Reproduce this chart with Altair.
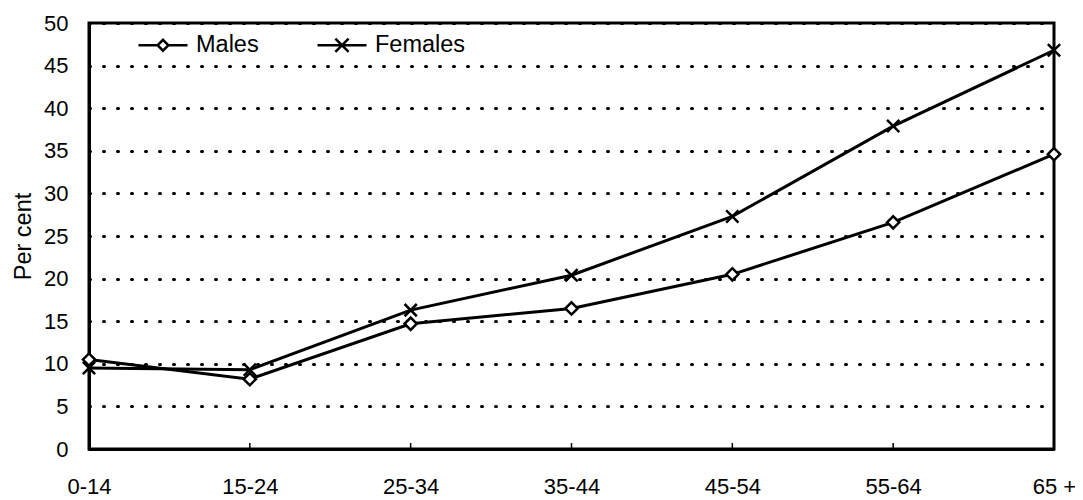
import altair as alt
import pandas as pd

ages = ["0-14", "15-24", "25-34", "35-44", "45-54", "55-64", "65 +"]
males = [10.5, 8.2, 14.7, 16.5, 20.5, 26.6, 34.6]
females = [9.5, 9.3, 16.3, 20.4, 27.3, 37.9, 46.8]
sexes = ["Males", "Females"]
y_ticks = [0, 5, 10, 15, 20, 25, 30, 35, 40, 45, 50]

rows = []
for a, m, f in zip(ages, males, females):
    rows.append({"age": a, "sex": "Males", "value": m})
    rows.append({"age": a, "sex": "Females", "value": f})
df = pd.DataFrame(rows)

FONT = "Liberation Sans"
TICK_FS = 22
TITLE_FS = 23.5

x_enc = alt.X("age:N", sort=ages,
              scale=alt.Scale(type="point", domain=ages, padding=0),
              axis=alt.Axis(title=None, labelAngle=0, labelFontSize=TICK_FS, labelFont=FONT,
                            labelColor="black", labelPadding=27, tickSize=0,
                            domain=True, domainColor="black", domainWidth=3,
                            grid=False))
y_enc = alt.Y("value:Q", scale=alt.Scale(domain=[0, 50], nice=False),
              axis=alt.Axis(title="Per cent", values=y_ticks, labelFontSize=TICK_FS, labelFont=FONT,
                            labelColor="black", labelPadding=21, tickSize=0,
                            domain=True, domainColor="black", domainWidth=3,
                            titleFont=FONT, titleFontSize=TITLE_FS, titleFontWeight="normal",
                            titleColor="black", titlePadding=8,
                            grid=True, gridColor="black", gridWidth=3, gridDash=[1, 13],
                            gridCap="round", gridOpacity=1))

base = alt.Chart(df)

lines = base.mark_line(color="black", strokeWidth=3).encode(
    x=x_enc, y=y_enc, detail="sex:N")

diamond = "diamond"
cross = "M-1,-1L1,1M-1,1L1,-1"
points = base.mark_point(filled=True, fill="white", stroke="black", strokeWidth=2.5,
                         opacity=1, size=150).encode(
    x=alt.X("age:N", sort=ages),
    y=alt.Y("value:Q"),
    shape=alt.Shape("sex:N", scale=alt.Scale(domain=sexes, range=[diamond, cross]), legend=None),
)

leg_diamond = "M-1,0L-0.22,0M0,-0.22L0.22,0L0,0.22L-0.22,0ZM0.22,0L1,0"
leg_cross = "M-1,0L1,0M-0.27,-0.27L0.27,0.27M-0.27,0.27L0.27,-0.27"
legend_layer = base.transform_filter("false").mark_point(
    filled=False, color="black", strokeWidth=2.5, opacity=1, size=2401).encode(
    x=alt.X("age:N", sort=ages),
    y=alt.Y("value:Q"),
    shape=alt.Shape("sex:N", scale=alt.Scale(domain=sexes, range=[leg_diamond, leg_cross]),
                    legend=alt.Legend(title=None, orient="none", legendX=48, legendY=-4,
                                      direction="horizontal", labelFontSize=TITLE_FS, labelFont=FONT,
                                      labelColor="black", symbolSize=2401, labelOffset=7,
                                      columnPadding=53, padding=0,
                                      symbolStrokeColor="black",
                                      symbolStrokeWidth=2.5, symbolOpacity=1)),
)

ticks = base.transform_filter("datum.sex == 'Males'").mark_rule(color="black", strokeWidth=1.5).encode(
    x=alt.X("age:N", sort=ages),
    y=alt.datum(0),
    y2=alt.datum(0.7),
)

chart = alt.layer(lines, points, ticks, legend_layer).resolve_scale(
    shape="independent"
).properties(
    width=965, height=426,
    autosize=alt.AutoSizeParams(type="none"),
    padding={"left": 81, "top": 15, "right": 21, "bottom": 51},
).configure(
    background="white",
    view=alt.ViewConfig(stroke="black", strokeWidth=3),
)

chart.save("out.html", embed_options={"renderer": "svg", "actions": False})
